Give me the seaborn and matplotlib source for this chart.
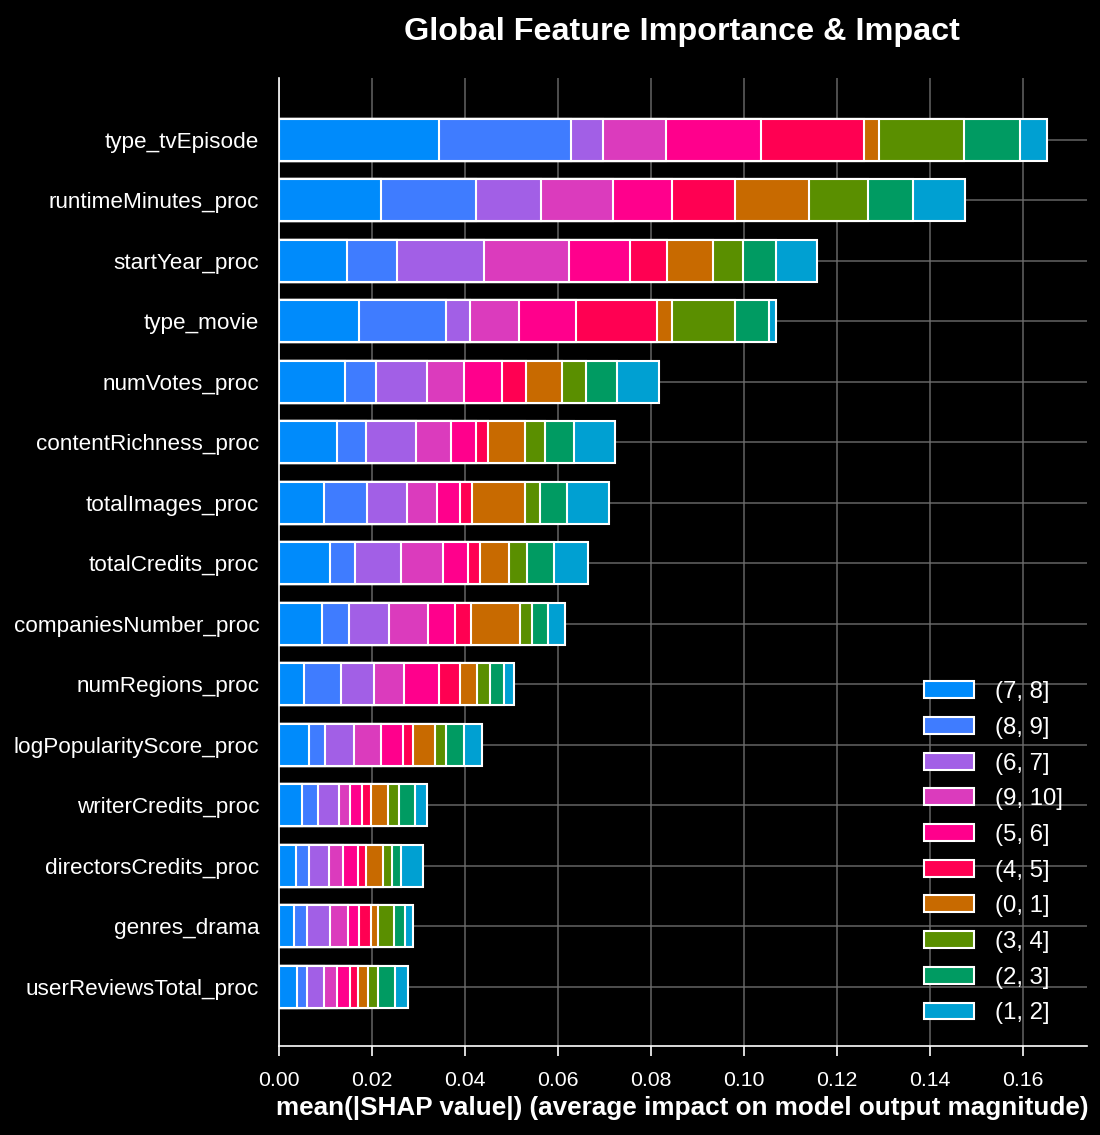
import numpy as np
import pandas as pd
import matplotlib
matplotlib.use("Agg")
import matplotlib.pyplot as plt
from matplotlib.patches import Patch
import seaborn as sns

# features, top to bottom
features = ["type_tvEpisode", "runtimeMinutes_proc", "startYear_proc", "type_movie",
            "numVotes_proc", "contentRichness_proc", "totalImages_proc", "totalCredits_proc",
            "companiesNumber_proc", "numRegions_proc", "logPopularityScore_proc",
            "writerCredits_proc", "directorsCredits_proc", "genres_drama",
            "userReviewsTotal_proc"]

# classes in stacking order (left -> right)
classes = ["(7, 8]", "(8, 9]", "(6, 7]", "(9, 10]", "(5, 6]",
           "(4, 5]", "(0, 1]", "(3, 4]", "(2, 3]", "(1, 2]"]
colors = ["#008bfb", "#3f7cff", "#a25fe6", "#db3bbd", "#ff008c",
          "#ff0052", "#c86a00", "#5a8f00", "#009b62", "#00a0d2"]

# mean |SHAP| per feature for each class (same order as features)
c_7_8  = [0.0345, 0.0219, 0.0148, 0.0173, 0.0143, 0.0125, 0.0097, 0.0111, 0.0093, 0.0055, 0.0066, 0.0050, 0.0038, 0.0034, 0.0040]
c_8_9  = [0.0283, 0.0205, 0.0107, 0.0186, 0.0067, 0.0063, 0.0092, 0.0053, 0.0058, 0.0078, 0.0034, 0.0035, 0.0027, 0.0026, 0.0022]
c_6_7  = [0.0070, 0.0140, 0.0186, 0.0053, 0.0108, 0.0107, 0.0087, 0.0099, 0.0086, 0.0073, 0.0062, 0.0044, 0.0043, 0.0051, 0.0036]
c_9_10 = [0.0134, 0.0155, 0.0183, 0.0104, 0.0080, 0.0076, 0.0064, 0.0090, 0.0085, 0.0064, 0.0059, 0.0024, 0.0031, 0.0038, 0.0027]
c_5_6  = [0.0205, 0.0126, 0.0132, 0.0124, 0.0082, 0.0054, 0.0049, 0.0054, 0.0058, 0.0074, 0.0046, 0.0026, 0.0032, 0.0024, 0.0029]
c_4_5  = [0.0221, 0.0136, 0.0078, 0.0174, 0.0052, 0.0026, 0.0027, 0.0025, 0.0034, 0.0045, 0.0022, 0.0020, 0.0017, 0.0025, 0.0016]
c_0_1  = [0.0033, 0.0158, 0.0099, 0.0032, 0.0078, 0.0078, 0.0114, 0.0063, 0.0105, 0.0038, 0.0047, 0.0037, 0.0037, 0.0015, 0.0023]
c_3_4  = [0.0182, 0.0128, 0.0066, 0.0134, 0.0051, 0.0043, 0.0032, 0.0039, 0.0025, 0.0028, 0.0024, 0.0023, 0.0019, 0.0036, 0.0020]
c_2_3  = [0.0121, 0.0097, 0.0070, 0.0075, 0.0066, 0.0063, 0.0057, 0.0058, 0.0036, 0.0029, 0.0038, 0.0034, 0.0020, 0.0023, 0.0037]
c_1_2  = [0.0057, 0.0112, 0.0089, 0.0015, 0.0091, 0.0089, 0.0092, 0.0072, 0.0036, 0.0021, 0.0039, 0.0026, 0.0046, 0.0016, 0.0027]

series = [c_7_8, c_8_9, c_6_7, c_9_10, c_5_6, c_4_5, c_0_1, c_3_4, c_2_3, c_1_2]

df = pd.DataFrame({"feature": features})
cum = np.cumsum(np.array(series), axis=0)
for i, cl in enumerate(classes):
    df[cl] = cum[i]

sns.set_theme(style="dark")
plt.rcParams['font.family'] = ['Liberation Sans', 'DejaVu Sans']
plt.rcParams['figure.facecolor'] = 'black'
plt.rcParams['axes.facecolor'] = 'black'

fig = plt.figure(figsize=(11, 11.35), dpi=100)
ax = fig.add_axes([0.2533, 0.0784, 0.7347, 0.8529])

# draw cumulative layers from the outermost inwards
for i in range(len(classes) - 1, -1, -1):
    sns.barplot(data=df, x=classes[i], y="feature", orient="h", color=colors[i],
                saturation=1, width=0.7, edgecolor="white", linewidth=1.5, ax=ax)

ax.set_xlim(0, 0.1737)
ax.set_ylim(len(features) - 1 + 0.98, -1.02)
ax.set_xticks(np.arange(0, 0.161, 0.02))
ax.set_xticklabels([f"{v:.2f}" for v in np.arange(0, 0.161, 0.02)])

ax.set_axisbelow(True)
ax.grid(True, axis="both", color="#6e6e6e", linewidth=1.1, alpha=0.9)

for s in ["top", "right"]:
    ax.spines[s].set_visible(False)
for s in ["left", "bottom"]:
    ax.spines[s].set_color("white")
    ax.spines[s].set_linewidth(1.2)

ax.tick_params(axis="x", colors="white", labelsize=15.3, length=7, width=1.2,
               pad=11, direction="out", bottom=True)
ax.tick_params(axis="y", colors="white", labelsize=16.2, length=0, pad=14)

ax.set_ylabel("")
ax.set_xlabel("mean(|SHAP value|) (average impact on model output magnitude)",
              color="white", fontsize=18.8, fontweight="bold", labelpad=4)
fig.suptitle("Global Feature Importance & Impact", color="white", fontsize=23.3,
             fontweight="bold", x=0.62, y=0.985)

handles = [Patch(facecolor=c, edgecolor="white", linewidth=1.5, label=l)
           for c, l in zip(colors, classes)]
leg = ax.legend(handles=handles, loc="lower right", frameon=False, fontsize=17.3,
                labelcolor="white", handlelength=2.08, handleheight=0.7,
                labelspacing=0.57, handletextpad=0.85, bbox_to_anchor=(0.997, 0.0))

fig.savefig("out.png", dpi=100, facecolor="black")
